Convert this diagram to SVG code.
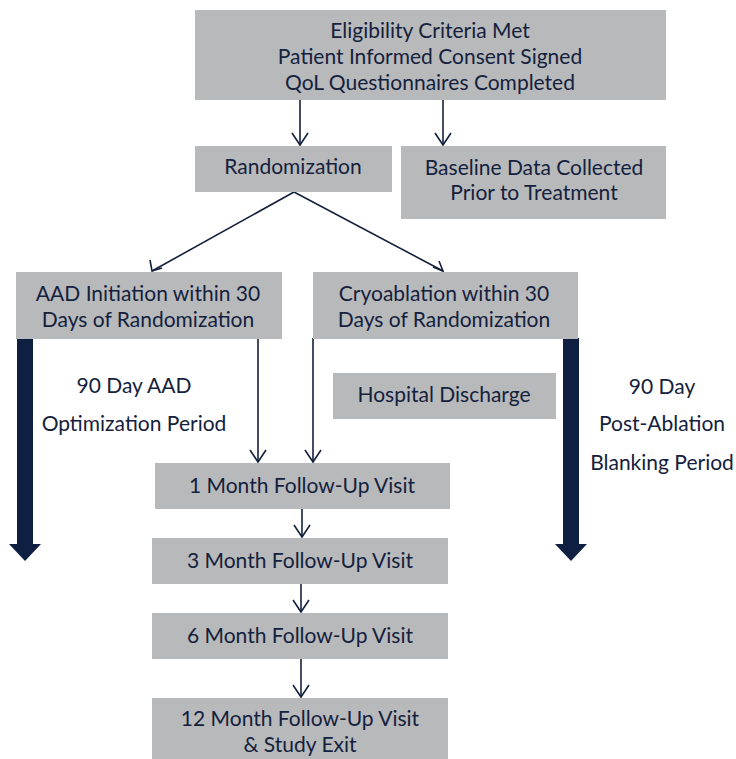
<svg xmlns="http://www.w3.org/2000/svg" width="736" height="759" viewBox="0 0 736 759">
<defs>
<style>
.box{fill:#b8b9bb}
.t{font-family:Lato,"Open Sans",sans-serif;font-size:21px;fill:#14213d;text-anchor:middle;dominant-baseline:central}
.ln{stroke:#14213d;stroke-width:1.6;fill:none}
.big{fill:#0e1f41}
</style>
</defs>
<rect width="736" height="759" fill="#ffffff"/>
<g id="connectors">
<line class="ln" x1="300" y1="100" x2="300" y2="145" />
<line class="ln" x1="443" y1="100" x2="443" y2="145" />
<path class="ln" d="M294,192 L152,271" />
<path class="ln" d="M294,192 L443,271" />
<line class="ln" x1="258" y1="338" x2="258" y2="462" />
<line class="ln" x1="313" y1="338" x2="313" y2="462" />
<line class="ln" x1="302" y1="508" x2="302" y2="537" />
<line class="ln" x1="301" y1="584" x2="301" y2="612" />
<line class="ln" x1="301" y1="659" x2="301" y2="697" />
<g class="ln">
<path d="M292,133 L300,145 L308,133"/>
<path d="M435,133 L443,145 L451,133"/>
<path d="M150,260 L152,271 L162,268"/>
<path d="M433,267 L443,271 L439,261"/>
<path d="M250,450 L258,462 L266,450"/>
<path d="M305,450 L313,462 L321,450"/>
<path d="M294,525 L302,537 L310,525"/>
<path d="M293,600 L301,612 L309,600"/>
<path d="M293,685 L301,697 L309,685"/>
</g>
</g>
<g id="aad-period">
<path class="big" d="M17,336 H33 V544 H41 L25,561 L9,544 H17 Z"/>
<text class="t" x="134" y="384">90 Day AAD</text>
<text class="t" x="134" y="422">Optimization Period</text>
</g>
<g id="blanking-period">
<path class="big" d="M563,338 H579 V544 H587 L571,561 L555,544 H563 Z"/>
<text class="t" x="662" y="385">90 Day</text>
<text class="t" x="662" y="422">Post-Ablation</text>
<text class="t" x="662" y="461">Blanking Period</text>
</g>
<g id="eligibility">
<rect class="box" x="195" y="10" width="471" height="90"/>
<text class="t" x="430" y="29">Eligibility Criteria Met</text>
<text class="t" x="430" y="55">Patient Informed Consent Signed</text>
<text class="t" x="430" y="81">QoL Questionnaires Completed</text>
</g>
<g id="randomization">
<rect class="box" x="195" y="146" width="197" height="46"/>
<text class="t" x="293" y="165">Randomization</text>
</g>
<g id="baseline">
<rect class="box" x="401" y="146" width="265" height="73"/>
<text class="t" x="534" y="166">Baseline Data Collected</text>
<text class="t" x="534" y="191">Prior to Treatment</text>
</g>
<g id="aad">
<rect class="box" x="16" y="272" width="266" height="67"/>
<text class="t" x="148" y="292">AAD Initiation within 30</text>
<text class="t" x="148" y="318">Days of Randomization</text>
</g>
<g id="cryo">
<rect class="box" x="313" y="272" width="265" height="67"/>
<text class="t" x="444" y="292">Cryoablation within 30</text>
<text class="t" x="444" y="318">Days of Randomization</text>
</g>
<g id="discharge">
<rect class="box" x="333" y="373" width="223" height="46"/>
<text class="t" x="444" y="393">Hospital Discharge</text>
</g>
<g id="m1">
<rect class="box" x="155" y="463" width="295" height="46"/>
<text class="t" x="302" y="484">1 Month Follow-Up Visit</text>
</g>
<g id="m3">
<rect class="box" x="152" y="538" width="296" height="46"/>
<text class="t" x="300" y="559">3 Month Follow-Up Visit</text>
</g>
<g id="m6">
<rect class="box" x="152" y="613" width="296" height="46"/>
<text class="t" x="300" y="634">6 Month Follow-Up Visit</text>
</g>
<g id="m12">
<rect class="box" x="152" y="698" width="296" height="61"/>
<text class="t" x="300" y="717">12 Month Follow-Up Visit</text>
<text class="t" x="300" y="743">&amp; Study Exit</text>
</g>
</svg>
